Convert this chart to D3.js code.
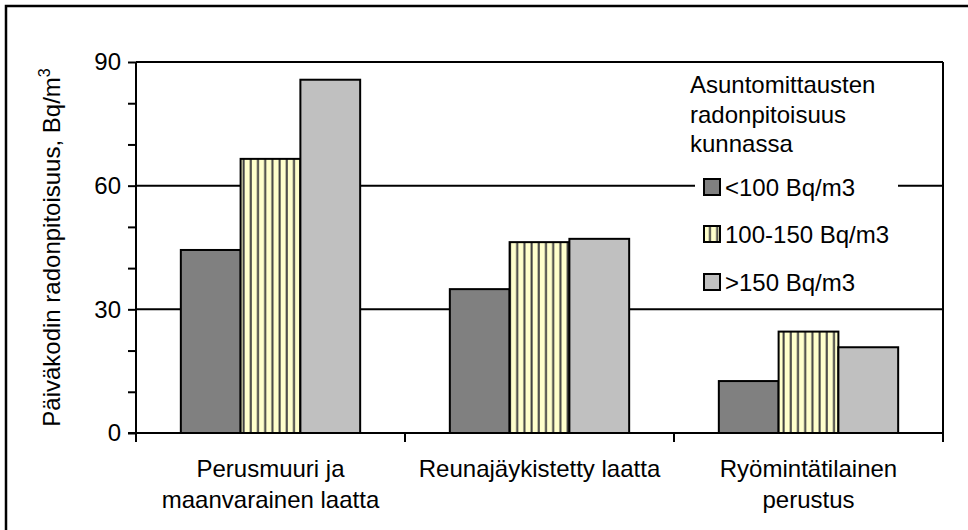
<!DOCTYPE html>
<html>
<head>
<meta charset="utf-8">
<script src="https://cdn.jsdelivr.net/npm/d3@7"></script>
<style>
  body { margin: 0; background: #fff; }
  text { font-family: "Liberation Sans", Arial, sans-serif; fill: #000; }
</style>
</head>
<body>
<svg width="968" height="530"></svg>
<script>
// data
var categories = [["Perusmuuri ja", "maanvarainen laatta"], ["Reunajäykistetty laatta"], ["Ryömintätilainen", "perustus"]];
var seriesNames = ["<100 Bq/m3", "100-150 Bq/m3", ">150 Bq/m3"];
var low = [44.4, 34.9, 12.6];
var mid = [66.5, 46.3, 24.6];
var high = [85.7, 47.1, 20.8];
var yTicks = [0, 30, 60, 90];
var legendTitle = ["Asuntomittausten", "radonpitoisuus", "kunnassa"];

var svg = d3.select("svg");
// note: "top" is reserved on window, so use plot* names
var plotLeft = 136, plotRight = 943, plotTop = 62, plotBottom = 433;

var catKeys = categories.map(function(c) { return c.join(" "); });
var x = d3.scaleBand().domain(catKeys).range([plotLeft, plotRight]).paddingInner(0).paddingOuter(0);
var xs = d3.scaleBand().domain(seriesNames).range([0, x.bandwidth()]).paddingInner(0).paddingOuter(0.75);
var y = d3.scaleLinear().domain([0, 90]).range([plotBottom, plotTop]);

var fills = ["#808080", "url(#stripes)", "#c0c0c0"];

var defs = svg.append("defs");
var pat = defs.append("pattern")
    .attr("id", "stripes")
    .attr("patternUnits", "userSpaceOnUse")
    .attr("width", 7.2).attr("height", 10);
pat.append("rect").attr("width", 7.2).attr("height", 10).attr("fill", "#ffffcc");
pat.append("rect").attr("x", 5).attr("width", 2).attr("height", 10).attr("fill", "#404040");

// outer frame (only left/top visible)
svg.append("rect")
    .attr("x", 6).attr("y", 6).attr("width", 1000).attr("height", 1000)
    .attr("fill", "none").attr("stroke", "#000").attr("stroke-width", 2.5);

// gridlines
svg.append("g").selectAll("line")
    .data(yTicks.filter(function(d) { return d > 0; }))
    .enter().append("line")
      .attr("x1", plotLeft).attr("x2", plotRight)
      .attr("y1", function(d) { return y(d); })
      .attr("y2", function(d) { return y(d); })
      .attr("stroke", "#000").attr("stroke-width", 2);

// right border of plot
svg.append("line")
    .attr("x1", plotRight).attr("x2", plotRight).attr("y1", plotTop).attr("y2", plotBottom)
    .attr("stroke", "#000").attr("stroke-width", 2);

// bars
var rows = seriesNames.map(function(s, i) {
  var vals = [low, mid, high][i];
  return catKeys.map(function(c, j) { return { cat: c, s: s, i: i, v: vals[j] }; });
});
var barsG = svg.append("g");
rows.forEach(function(r) {
  barsG.selectAll(null)
    .data(r)
    .enter().append("rect")
      .attr("x", function(d) { return x(d.cat) + xs(d.s); })
      .attr("y", function(d) { return y(d.v); })
      .attr("width", xs.bandwidth())
      .attr("height", function(d) { return y(0) - y(d.v); })
      .attr("fill", function(d) { return fills[d.i]; })
      .attr("stroke", "#000").attr("stroke-width", 2);
});

// y axis
var yAxis = d3.axisLeft(y).tickValues(d3.range(0, 91, 10)).tickSize(8)
    .tickFormat(function(d) { return yTicks.indexOf(d) >= 0 ? d : ""; });
var gy = svg.append("g").attr("transform", "translate(" + plotLeft + ",0)").call(yAxis);
gy.select(".domain").attr("stroke-width", 2).attr("d", "M0," + plotTop + "V" + plotBottom);
gy.selectAll(".tick line").attr("stroke-width", 2);
gy.selectAll(".tick text").attr("font-size", 24).attr("x", -15)
    .style("font-family", "'Liberation Sans', Arial, sans-serif");

// x axis
svg.append("line")
    .attr("x1", plotLeft - 8).attr("x2", plotRight).attr("y1", plotBottom).attr("y2", plotBottom)
    .attr("stroke", "#000").attr("stroke-width", 2);
var xTickPos = catKeys.map(function(c) { return x(c); }).concat([plotRight]);
svg.append("g").selectAll("line")
    .data(xTickPos)
    .enter().append("line")
      .attr("x1", function(d) { return d; }).attr("x2", function(d) { return d; })
      .attr("y1", plotBottom).attr("y2", plotBottom + 9)
      .attr("stroke", "#000").attr("stroke-width", 2);

var catText = svg.append("g").selectAll("text")
    .data(categories)
    .enter().append("text")
      .attr("text-anchor", "middle")
      .attr("font-size", 24)
      .attr("x", function(d, i) { return x(catKeys[i]) + x.bandwidth() / 2; })
      .attr("y", 477);
catText.selectAll("tspan")
    .data(function(d) { return d; })
    .enter().append("tspan")
      .attr("x", function() { return d3.select(this.parentNode).attr("x"); })
      .attr("dy", function(d, i) { return i === 0 ? 0 : 31; })
      .text(function(d) { return d; });

// y label
var yl = svg.append("text")
    .attr("transform", "translate(60," + ((plotTop + plotBottom) / 2) + ") rotate(-90)")
    .attr("text-anchor", "middle")
    .attr("font-size", 24);
yl.append("tspan").text("Päiväkodin radonpitoisuus, Bq/m");
yl.append("tspan").attr("font-size", 16).attr("dy", -10).text("3");

// legend
svg.append("rect")
    .attr("x", 695).attr("y", 160).attr("width", 203).attr("height", 140)
    .attr("fill", "#fff");
svg.append("g").selectAll("text")
    .data(legendTitle)
    .enter().append("text")
      .attr("x", 690)
      .attr("y", function(d, i) { return 93 + i * 29.5; })
      .attr("font-size", 24)
      .text(function(d) { return d; });
var legRowY = [187, 234, 282];
var lg = svg.append("g").selectAll("g")
    .data(seriesNames)
    .enter().append("g")
      .attr("transform", function(d, i) { return "translate(704," + legRowY[i] + ")"; });
lg.append("rect")
    .attr("x", 0).attr("y", -8).attr("width", 16).attr("height", 16)
    .attr("fill", function(d, i) { return fills[i]; })
    .attr("stroke", "#000").attr("stroke-width", 2);
lg.append("text")
    .attr("x", 21).attr("y", 8.5)
    .attr("font-size", 24)
    .text(function(d) { return d; });
</script>
</body>
</html>
